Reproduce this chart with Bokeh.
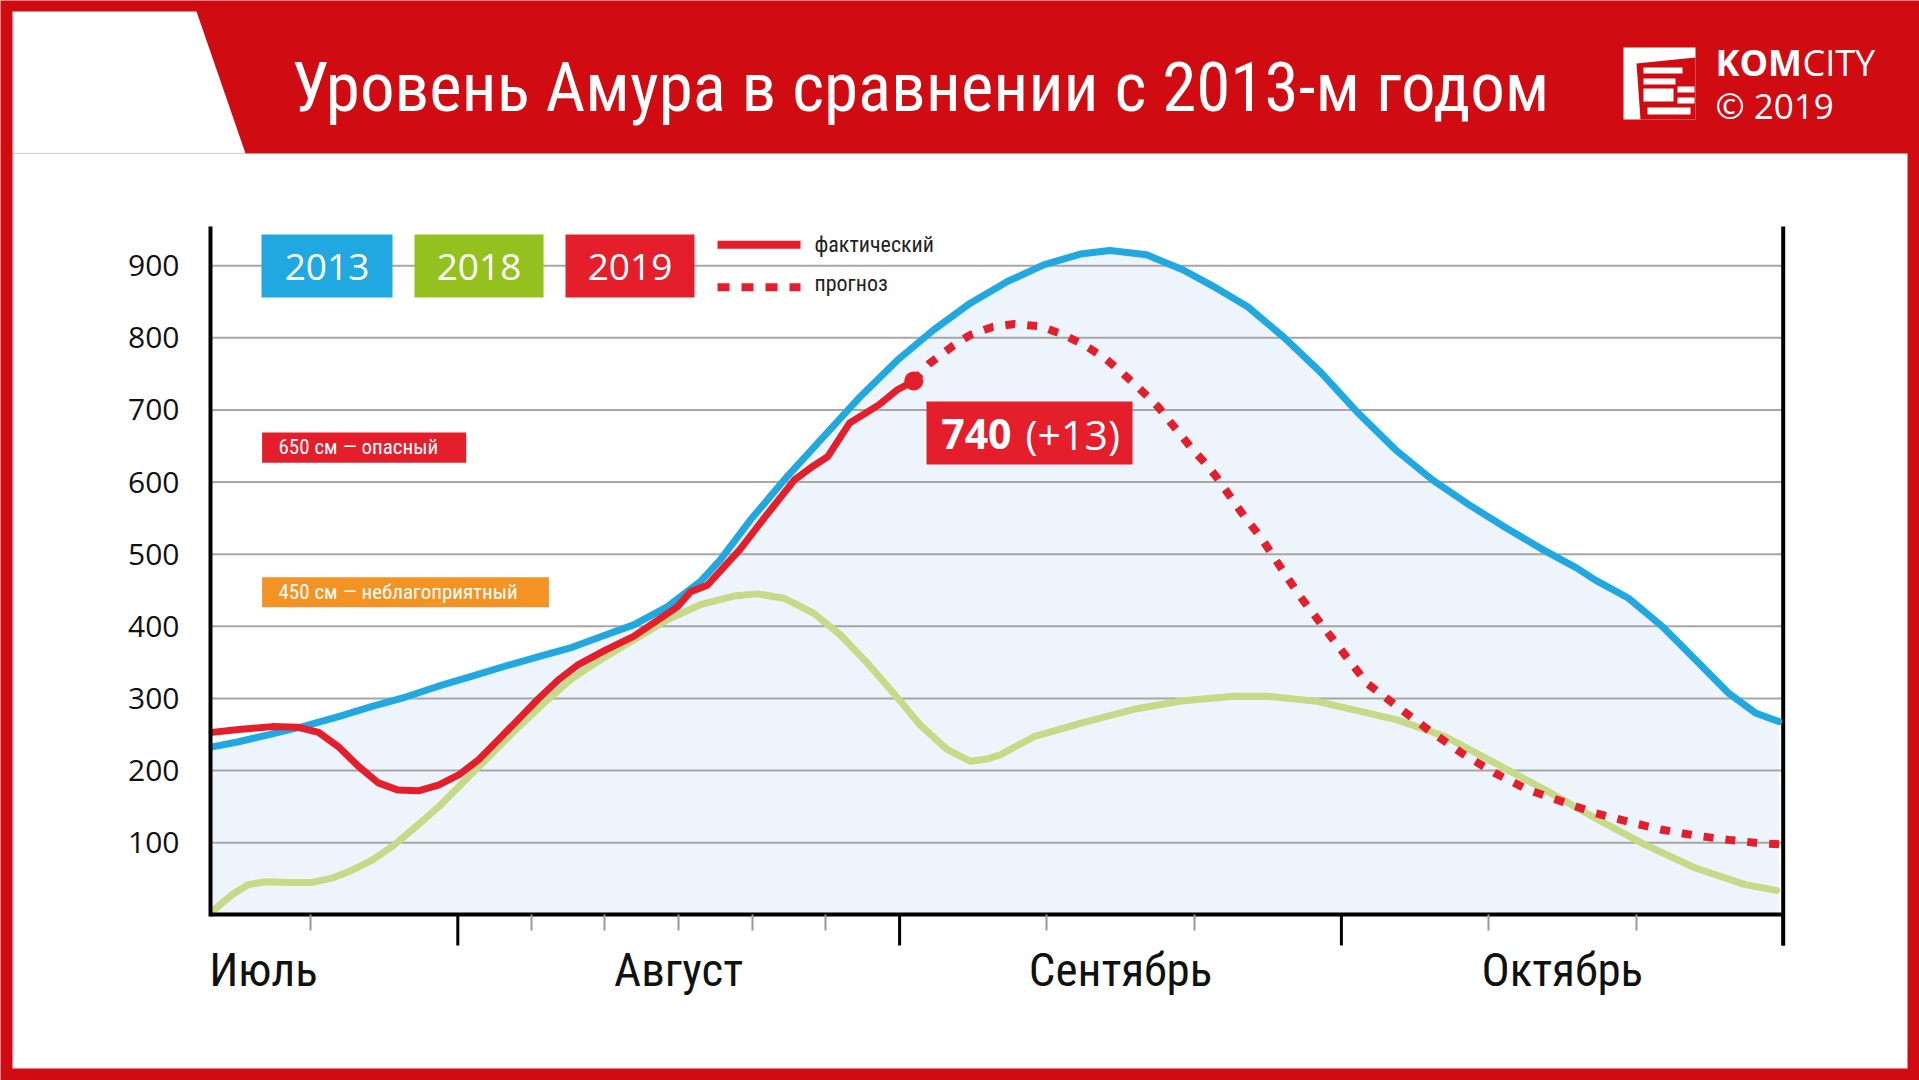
from bokeh.plotting import figure
from bokeh.models import Range1d, LinearAxis, FixedTicker
from bokeh.core.properties import value
from bokeh.embed import file_html
from bokeh.resources import INLINE

# ---------------- data ----------------
title_text = "Уровень Амура в сравнении с 2013-м годом"
years = ["2013", "2018", "2019"]
legend_kinds = ["фактический", "прогноз"]
month_names = ["Июль", "Август", "Сентябрь", "Октябрь"]
month_label_pos = [0.56, 1.5, 2.5, 3.5]          # months since 1 July
month_starts = [1.0, 2.0, 3.0, 4.0]
minor_tick_pos = [0.667, 1.167, 1.333, 1.5, 1.667, 1.833, 2.333, 2.667, 3.333, 3.667]
y_ticks = [100, 200, 300, 400, 500, 600, 700, 800, 900]
danger_label = "650 см — опасный"
unfav_label = "450 см — неблагоприятный"
last_value = 740
last_delta = 13

t_2013 = [0.444, 0.504, 0.580, 0.655, 0.730, 0.806, 0.882, 0.956, 1.033, 1.108,
          1.183, 1.259, 1.334, 1.398, 1.474, 1.549, 1.594, 1.663, 1.746, 1.828,
          1.912, 1.995, 2.077, 2.160, 2.244, 2.326, 2.409, 2.476, 2.559, 2.642,
          2.708, 2.788, 2.871, 2.955, 3.039, 3.122, 3.206, 3.290, 3.374, 3.457,
          3.532, 3.575, 3.650, 3.726, 3.801, 3.877, 3.937, 3.990]
lvl_2013 = [233, 240, 251, 262, 275, 289, 302, 317, 331, 345,
            358, 371, 388, 402, 427, 462, 492, 548, 608, 663,
            719, 769, 811, 848, 878, 901, 916, 921, 915, 894,
            872, 843, 800, 751, 695, 645, 603, 568, 536, 506,
            481, 464, 439, 400, 354, 307, 280, 268]

t_2018 = [0.448, 0.489, 0.526, 0.565, 0.617, 0.670, 0.716, 0.761, 0.806, 0.852,
          0.897, 0.957, 1.017, 1.078, 1.138, 1.199, 1.259, 1.334, 1.398, 1.474,
          1.549, 1.625, 1.678, 1.738, 1.806, 1.866, 1.927, 1.987, 2.047, 2.108,
          2.160, 2.198, 2.228, 2.304, 2.417, 2.530, 2.643, 2.756, 2.832, 2.945,
          3.058, 3.128, 3.236, 3.349, 3.462, 3.575, 3.688, 3.801, 3.914, 3.985]
lvl_2018 = [7, 28, 42, 46, 45, 45, 51, 62, 76, 95,
            118, 150, 187, 224, 261, 296, 328, 358, 381, 409,
            430, 442, 445, 439, 418, 388, 349, 307, 263, 229,
            213, 216, 222, 247, 267, 285, 297, 303, 303, 296,
            280, 270, 247, 210, 173, 134, 97, 65, 42, 34]

t_2019 = [0.444, 0.504, 0.580, 0.639, 0.685, 0.730, 0.775, 0.820, 0.865, 0.911,
          0.956, 1.002, 1.047, 1.092, 1.137, 1.183, 1.228, 1.273, 1.334, 1.398,
          1.497, 1.527, 1.565, 1.617, 1.638, 1.696, 1.762, 1.804, 1.837, 1.887,
          1.953, 1.995, 2.032]
lvl_2019 = [253, 257, 261, 260, 253, 233, 206, 183, 173, 172,
            180, 194, 215, 243, 271, 300, 326, 347, 367, 386,
            427, 448, 457, 492, 506, 552, 603, 622, 635, 682,
            707, 728, 740]

t_fcst = [2.032, 2.069, 2.119, 2.160, 2.210, 2.260, 2.318, 2.368, 2.418, 2.464,
          2.501, 2.542, 2.584, 2.621, 2.658, 2.692, 2.716, 2.754, 2.783, 2.817,
          2.846, 2.907, 2.982, 3.058, 3.122, 3.198, 3.273, 3.349, 3.424, 3.500,
          3.575, 3.650, 3.726, 3.801, 3.877, 3.952, 4.016]
lvl_fcst = [740, 765, 788, 804, 815, 819, 816, 805, 790, 772,
            753, 730, 705, 677, 649, 626, 608, 575, 550, 524,
            497, 441, 381, 321, 291, 256, 224, 196, 173, 157,
            141, 129, 118, 110, 104, 99, 97]

# ---------------- styling ----------------
RED_BG = "#D00B12"
BLUE = "#21A8E0"
GREEN_BOX = "#95C11F"
GREEN_LINE = "#C6DA87"
RED = "#E41E2B"
ORANGE = "#F39323"
FILL = "#EDF4FC"
GRID = "#A6A6A6"
FONT = "Open Sans"
COND = "Roboto Condensed"

W, H = 1919, 1080
PAGE_OFF = 0
PX_AUG1, PX_PER_MONTH = 457.3, 441.8
PX_ZERO, PX_PER_CM = 914.4, 0.7214
def m_at(px):
    return 1 + (px - PX_AUG1) / PX_PER_MONTH
def v_at(py):
    return (PX_ZERO - py) / PX_PER_CM
def bl(y, size):
    # baseline correction for text placement
    return y - 0.35 * size

T_AXIS = m_at(210)
V_TOP = v_at(226)
V_TICK_END = v_at(945)

p = figure(width=W, height=H, output_backend="svg", toolbar_location=None,
           x_range=Range1d(m_at(PAGE_OFF), m_at(PAGE_OFF + W)),
           y_range=Range1d(v_at(PAGE_OFF + H), v_at(PAGE_OFF)),
           x_axis_type=None, y_axis_type=None, min_border=0)
p.outline_line_color = None
p.background_fill_color = RED_BG
p.border_fill_color = RED_BG
p.extra_x_ranges = {"px": Range1d(PAGE_OFF, PAGE_OFF + W)}
p.extra_y_ranges = {"px": Range1d(PAGE_OFF + H, PAGE_OFF)}
PX = dict(x_range_name="px", y_range_name="px")

# background panels
p.quad(left=[12], right=[1907], top=[153], bottom=[1068], color="white", line_color=None, **PX)
p.patch(x=[12, 196, 245, 12], y=[11, 11, 153, 153], color="white", line_color=None, **PX)

# fill under 2013
p.varea(x=t_2013, y1=[0] * len(t_2013), y2=lvl_2013, color=FILL)

# gridlines
p.segment(x0=[T_AXIS] * len(y_ticks), x1=[4.0] * len(y_ticks), y0=y_ticks, y1=y_ticks,
          line_color=GRID, line_width=2)

# month boundary ticks and right frame line
p.segment(x0=month_starts, x1=month_starts, y0=[0] * 4, y1=[V_TICK_END] * 4,
          line_color="black", line_width=3)
p.segment(x0=[month_starts[-1]], x1=[month_starts[-1]], y0=[V_TICK_END], y1=[V_TOP],
          line_color="black", line_width=4)

# series
p.line(t_2018, lvl_2018, line_color=GREEN_LINE, line_width=7, line_join="round", line_cap="round")
p.line(t_2013, lvl_2013, line_color=BLUE, line_width=7, line_join="round", line_cap="round")
p.line(t_fcst, lvl_fcst, line_color=RED, line_width=8, line_dash="10 12")
p.line(t_2019, lvl_2019, line_color=RED, line_width=7, line_join="round", line_cap="round")
p.scatter([t_2019[-1]], [lvl_2019[-1]], size=19, color=RED, line_color=None)

# axes
yaxis = LinearAxis(fixed_location=T_AXIS, bounds=(-2, V_TOP), ticker=FixedTicker(ticks=y_ticks),
                   axis_line_color="black", axis_line_width=4,
                   major_tick_line_color=None, minor_tick_line_color=None,
                   major_tick_out=0, major_tick_in=0,
                   major_label_standoff=31, major_label_text_font=FONT,
                   major_label_text_font_size="30px", major_label_text_color="#111111")
p.add_layout(yaxis, "left")

xaxis = LinearAxis(fixed_location=0, bounds=(T_AXIS, 4.0),
                   ticker=FixedTicker(ticks=month_label_pos, minor_ticks=minor_tick_pos),
                   major_label_overrides=dict(zip(month_label_pos, month_names)),
                   axis_line_color="black", axis_line_width=4,
                   major_tick_line_color=None, major_tick_out=0, major_tick_in=0,
                   minor_tick_out=16, minor_tick_in=0, minor_tick_line_width=2,
                   minor_tick_line_color="#9A9A9A",
                   major_label_standoff=11,
                   major_label_text_font=COND, major_label_text_font_size="47px",
                   major_label_text_color="#111111")
p.add_layout(xaxis, "below")

# title
p.text(x=[291], y=[bl(111, 69)], text=[title_text], text_font=value(COND),
       text_font_size="69px", text_color="white", text_baseline="alphabetic", **PX)

# logo
p.quad(left=[1623], right=[1695], top=[47], bottom=[119], color="white", line_color=None, **PX)
p.patch(x=[1636, 1695, 1695, 1640], y=[63, 57, 119, 119], color=RED_BG, line_color=None, **PX)
p.quad(left=[1643, 1643, 1643, 1677, 1677, 1647], right=[1682, 1675, 1673, 1694, 1694, 1690],
       top=[67, 78, 88, 86, 97, 107], bottom=[73, 84, 101, 92, 103, 114],
       color="white", line_color=None, **PX)
p.text(x=[1715], y=[bl(75, 36)], text=["KOM"], text_font=value(FONT), text_font_style="bold",
       text_font_size="36px", text_color="white", text_baseline="alphabetic", **PX)
p.text(x=[1802], y=[bl(75, 36)], text=["CITY"], text_font=value(FONT),
       text_font_size="36px", text_color="white", text_baseline="alphabetic", **PX)
p.text(x=[1715], y=[bl(117, 35)], text=["© 2019"], text_font=value(FONT),
       text_font_size="35px", text_color="white", text_baseline="alphabetic", **PX)

# year legend boxes
box_l = [261, 414, 565]
box_r = [392, 543, 694]
p.quad(left=box_l, right=box_r, top=[234] * 3, bottom=[297] * 3,
       color=[BLUE, GREEN_BOX, RED], line_color=None, **PX)
p.text(x=[(a + b) / 2 for a, b in zip(box_l, box_r)], y=[bl(279, 37)] * 3, text=years,
       text_font=value(FONT), text_font_size="37px", text_color="white",
       text_align="center", text_baseline="alphabetic", **PX)

# line-style legend
p.line(x=[717, 800], y=[244.3, 244.3], line_color=RED, line_width=8, **PX)
p.line(x=[717, 800], y=[286.7, 286.7], line_color=RED, line_width=8, line_dash="12 12", **PX)
p.text(x=[814, 814], y=[bl(251.7, 22), bl(291, 22)], text=legend_kinds, text_font=value(COND),
       text_font_size="22px", text_color="#222222", text_baseline="alphabetic", **PX)

# threshold labels
p.quad(left=[261.6, 261.6], right=[465.7, 548.4], top=[432, 576.7], bottom=[462.3, 606.7],
       color=[RED, ORANGE], line_color=None, **PX)
p.text(x=[278, 278], y=[bl(454.3, 21), bl(599, 21)], text=[danger_label, unfav_label],
       text_font=value(COND), text_font_size="21px", text_color="white",
       text_baseline="alphabetic", **PX)

# current value annotation
p.quad(left=[926], right=[1132], top=[401], bottom=[464], color=RED, line_color=None, **PX)
p.text(x=[940.7], y=[bl(447.7, 41)], text=[f"{last_value}"], text_font=value(FONT), text_font_style="bold",
       text_font_size="41px", text_color="white", text_baseline="alphabetic", **PX)
p.text(x=[1025], y=[bl(447.7, 41)], text=[f"(+{last_delta})"], text_font=value(FONT),
       text_font_size="41px", text_color="white", text_baseline="alphabetic", **PX)

open("out.html", "w").write(file_html(p, INLINE))
